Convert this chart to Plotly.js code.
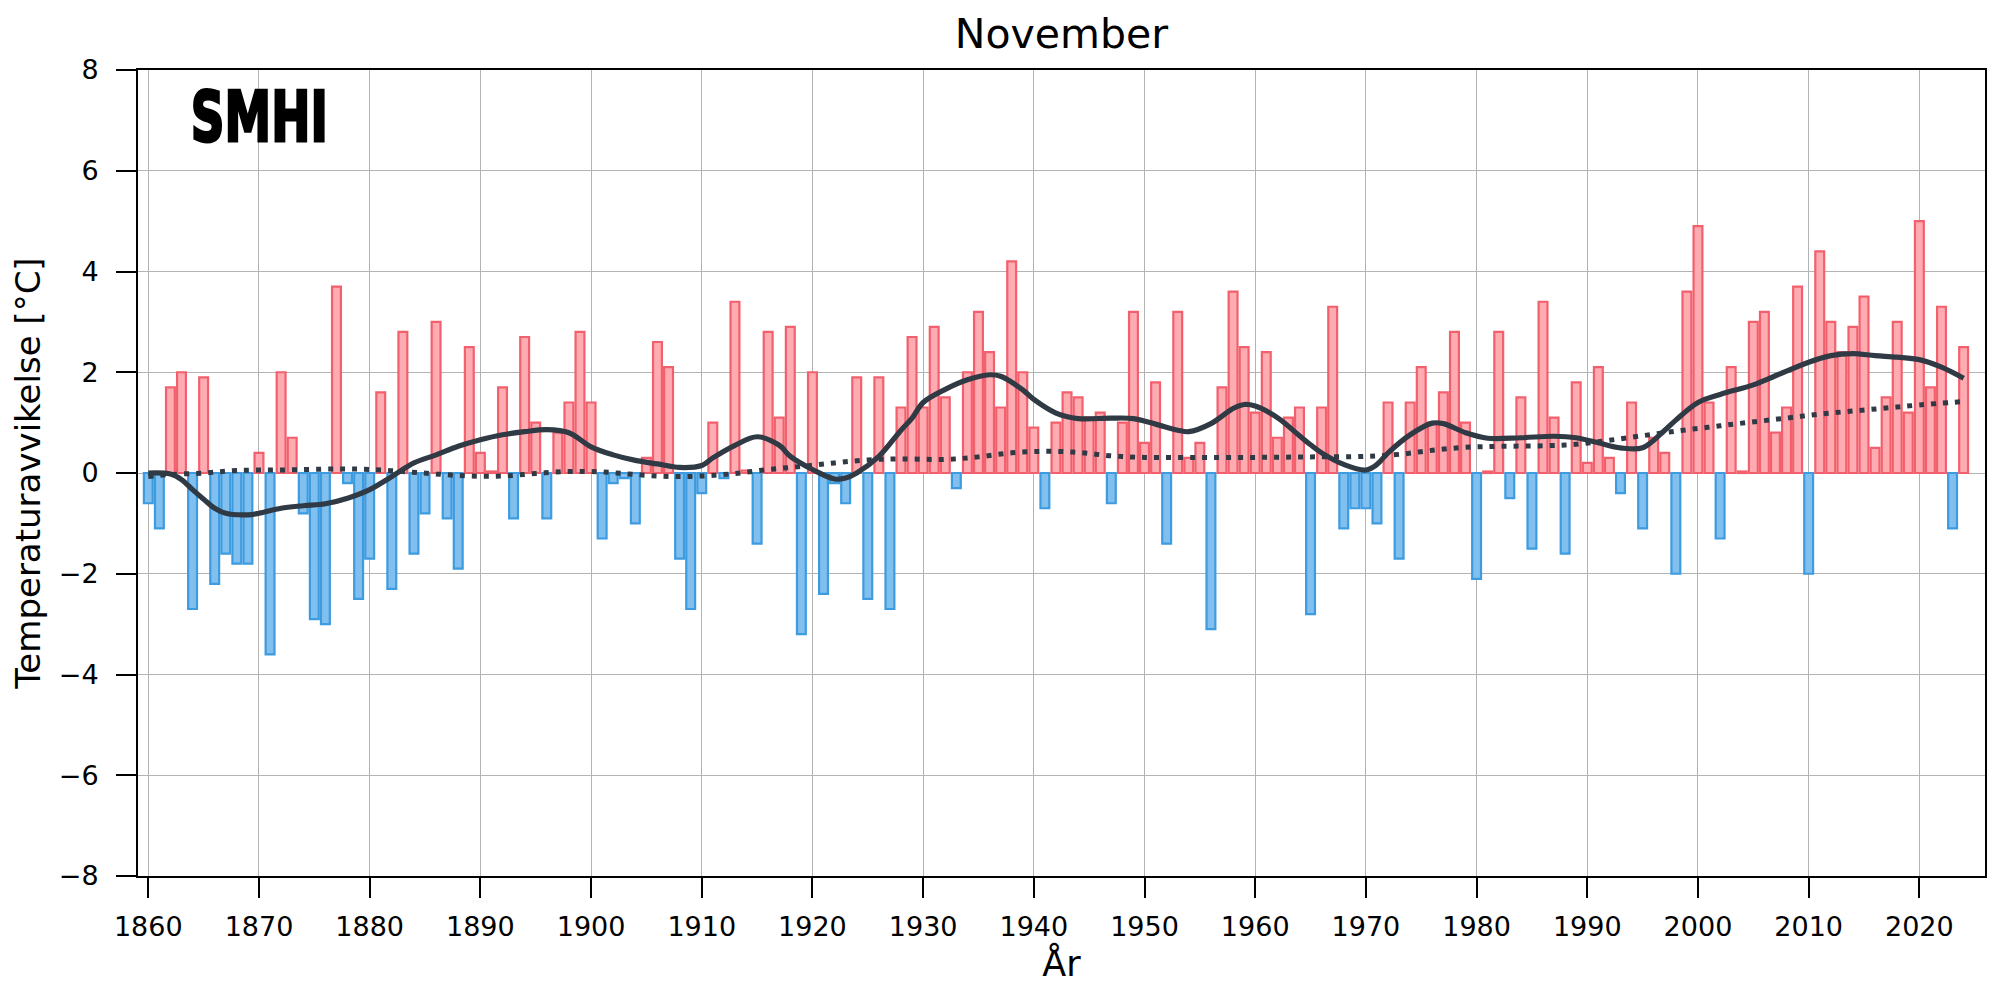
<!DOCTYPE html>
<html>
<head>
<meta charset="utf-8">
<script src="https://cdn.plot.ly/plotly-3.0.1.min.js"></script>
<style>
html,body{margin:0;padding:0;background:#fff;}
#chart{width:2000px;height:1000px;}
</style>
</head>
<body>
<div id="chart"></div>
<script>
// Yearly November temperature anomalies (°C)
const years = [
1860,1861,1862,1863,1864,1865,1866,1867,1868,1869,
1870,1871,1872,1873,1874,1875,1876,1877,1878,1879,
1880,1881,1882,1883,1884,1885,1886,1887,1888,1889,
1890,1891,1892,1893,1894,1895,1896,1897,1898,1899,
1900,1901,1902,1903,1904,1905,1906,1907,1908,1909,
1910,1911,1912,1913,1914,1915,1916,1917,1918,1919,
1920,1921,1922,1923,1924,1925,1926,1927,1928,1929,
1930,1931,1932,1933,1934,1935,1936,1937,1938,1939,
1940,1941,1942,1943,1944,1945,1946,1947,1948,1949,
1950,1951,1952,1953,1954,1955,1956,1957,1958,1959,
1960,1961,1962,1963,1964,1965,1966,1967,1968,1969,
1970,1971,1972,1973,1974,1975,1976,1977,1978,1979,
1980,1981,1982,1983,1984,1985,1986,1987,1988,1989,
1990,1991,1992,1993,1994,1995,1996,1997,1998,1999,
2000,2001,2002,2003,2004,2005,2006,2007,2008,2009,
2010,2011,2012,2013,2014,2015,2016,2017,2018,2019,
2020,2021,2022,2023,2024];

const anomalies = [
-0.6,-1.1, 1.7, 2.0,-2.7, 1.9,-2.2,-1.6,-1.8,-1.8,
 0.4,-3.6, 2.0, 0.7,-0.8,-2.9,-3.0, 3.7,-0.2,-2.5,
-1.7, 1.6,-2.3, 2.8,-1.6,-0.8, 3.0,-0.9,-1.9, 2.5,
 0.4, 0.03, 1.7,-0.9, 2.7, 1.0,-0.9, 0.8, 1.4, 2.8,
 1.4,-1.3,-0.2,-0.1,-1.0, 0.3, 2.6, 2.1,-1.7,-2.7,
-0.4, 1.0,-0.1, 3.4, 0.05,-1.4, 2.8, 1.1, 2.9,-3.2,
 2.0,-2.4,-0.2,-0.6, 1.9,-2.5, 1.9,-2.7, 1.3, 2.7,
 1.3, 2.9, 1.5,-0.3, 2.0, 3.2, 2.4, 1.3, 4.2, 2.0,
 0.9,-0.7, 1.0, 1.6, 1.5, 1.1, 1.2,-0.6, 1.0, 3.2,
 0.6, 1.8,-1.4, 3.2, 0.3, 0.6,-3.1, 1.7, 3.6, 2.5,
 1.2, 2.4, 0.7, 1.1, 1.3,-2.8, 1.3, 3.3,-1.1,-0.7,
-0.7,-1.0, 1.4,-1.7, 1.4, 2.1, 1.0, 1.6, 2.8, 1.0,
-2.1, 0.03, 2.8,-0.5, 1.5,-1.5, 3.4, 1.1,-1.6, 1.8,
 0.2, 2.1, 0.3,-0.4, 1.4,-1.1, 0.7, 0.4,-2.0, 3.6,
 4.9, 1.4,-1.3, 2.1, 0.03, 3.0, 3.2, 0.8, 1.3, 3.7,
-2.0, 4.4, 3.0, 2.4, 2.9, 3.5, 0.5, 1.5, 3.0, 1.2,
 5.0, 1.7, 3.3,-1.1, 2.5];

// Smoothed curve (solid)
const smoothYears = [1860,1862,1863,1864,1865,1866,1867,1869,1870,1872,1874,1876,1878,1880,1882,1884,1886,1888,1890,1892,1894,1896,1898,1900,1902,1904,1906,1908,1910,1911,1913,1915,1917,1918,1920,1922,1923,1924,1926,1928,1929,1930,1932,1934,1936,1937,1939,1940,1942,1944,1947,1949,1951,1953,1954,1956,1958,1959,1960,1962,1964,1965,1966,1968,1970,1971,1972,1974,1976,1977,1979,1981,1984,1987,1989,1991,1993,1995,1997,1998,2000,2002,2005,2007,2010,2012,2014,2016,2018,2020,2022,2024];
const smoothValues = [0.0,-0.02,-0.13,-0.33,-0.52,-0.7,-0.8,-0.83,-0.8,-0.7,-0.65,-0.61,-0.5,-0.33,-0.07,0.2,0.36,0.53,0.66,0.76,0.82,0.86,0.8,0.52,0.36,0.25,0.18,0.11,0.15,0.3,0.55,0.72,0.55,0.33,0.07,-0.12,-0.1,0.0,0.33,0.85,1.09,1.4,1.66,1.85,1.95,1.92,1.65,1.46,1.19,1.08,1.09,1.08,0.97,0.85,0.82,0.98,1.28,1.36,1.33,1.1,0.74,0.56,0.4,0.17,0.06,0.17,0.4,0.76,0.99,0.98,0.8,0.69,0.7,0.73,0.7,0.6,0.5,0.5,0.85,1.05,1.4,1.56,1.75,1.93,2.2,2.33,2.37,2.33,2.3,2.25,2.1,1.88];

// Long-term trend (dotted)
const trendYears = [1860,1862,1865,1868,1872,1877,1880,1883,1886,1889,1892,1895,1898,1901,1904,1907,1910,1913,1916,1919,1922,1925,1928,1932,1935,1938,1941,1944,1947,1950,1955,1960,1965,1970,1973,1976,1979,1982,1986,1989,1992,1995,1998,2001,2004,2008,2011,2014,2017,2020,2024];
const trendValues = [-0.07,-0.03,0.0,0.05,0.06,0.08,0.07,0.03,-0.02,-0.06,-0.06,-0.01,0.03,0.02,-0.03,-0.07,-0.06,-0.01,0.07,0.13,0.2,0.26,0.28,0.27,0.32,0.4,0.43,0.41,0.34,0.31,0.31,0.31,0.32,0.33,0.37,0.45,0.51,0.53,0.54,0.57,0.65,0.74,0.83,0.91,0.99,1.09,1.17,1.23,1.29,1.35,1.42];

const xTickVals = [1860,1870,1880,1890,1900,1910,1920,1930,1940,1950,1960,1970,1980,1990,2000,2010,2020];
const yTickVals = [-8,-6,-4,-2,0,2,4,6,8];

const chartTitle = 'November';
const xTitle = 'År';
const yTitle = 'Temperaturavvikelse [°C]';
const logoText = 'SMHI';

const RED_FILL = '#ffabb2', RED_LINE = '#f2606d';
const BLUE_FILL = '#80bfee', BLUE_LINE = '#3d9be0';
const DARK = '#2f3a45';
const FONT = 'DejaVu Sans, Verdana, sans-serif';

const fillColors = anomalies.map(v => v >= 0 ? RED_FILL : BLUE_FILL);
const lineColors = anomalies.map(v => v >= 0 ? RED_LINE : BLUE_LINE);

const traces = [
  {
    type: 'bar', x: years, y: anomalies, width: 0.8,
    marker: {color: fillColors, line: {color: lineColors, width: 2.2}},
    hoverinfo: 'x+y'
  },
  {
    type: 'scatter', mode: 'lines', x: trendYears, y: trendValues,
    line: {color: DARK, width: 5, dash: '5px,7px', shape: 'spline', smoothing: 1},
    hoverinfo: 'skip'
  },
  {
    type: 'scatter', mode: 'lines', x: smoothYears, y: smoothValues,
    line: {color: DARK, width: 5.2, shape: 'spline', smoothing: 1},
    hoverinfo: 'skip'
  }
];

const axisCommon = {
  showline: true, mirror: true, linecolor: '#000', linewidth: 2,
  ticks: 'outside', ticklen: 20, tickwidth: 2, tickcolor: '#000',
  showgrid: true, gridcolor: '#b3b3b3', gridwidth: 1,
  zeroline: false,
  tickfont: {family: FONT, size: 27, color: '#000'}
};

const layout = {
  width: 2000, height: 1000,
  margin: {l: 138, r: 15, t: 70, b: 124},
  paper_bgcolor: '#fff', plot_bgcolor: '#fff',
  showlegend: false,
  bargap: 0,
  title: {
    text: chartTitle, font: {family: FONT, size: 41, color: '#000'},
    x: 0.5, xref: 'paper', y: 0.966, yref: 'container', yanchor: 'middle'
  },
  xaxis: Object.assign({}, axisCommon, {
    range: [1859.07, 2025.93],
    tickmode: 'array', tickvals: xTickVals,
    ticklabelstandoff: 6,
    title: {text: xTitle, font: {family: FONT, size: 35, color: '#000'}, standoff: 4}
  }),
  yaxis: Object.assign({}, axisCommon, {
    range: [-8, 8],
    tickmode: 'array', tickvals: yTickVals,
    ticklabelstandoff: 12,
    title: {text: yTitle, font: {family: FONT, size: 34, color: '#000'}, standoff: 8}
  }),
  annotations: [{
    text: logoText, xref: 'paper', yref: 'paper',
    x: 0.0658, y: 0.942, xanchor: 'center', yanchor: 'middle',
    showarrow: false,
    font: {family: FONT, size: 70, color: '#000', weight: 'bold'}
  }]
};

Plotly.newPlot('chart', traces, layout, {staticPlot: true, displayModeBar: false}).then(function(gd){
  const t = gd.querySelector('.annotation-text');
  if (t) {
    t.setAttribute('textLength', '137');
    t.setAttribute('lengthAdjust', 'spacingAndGlyphs');
    t.style.stroke = '#000';
    t.style.strokeWidth = '3px';
  }
});
</script>
</body>
</html>
